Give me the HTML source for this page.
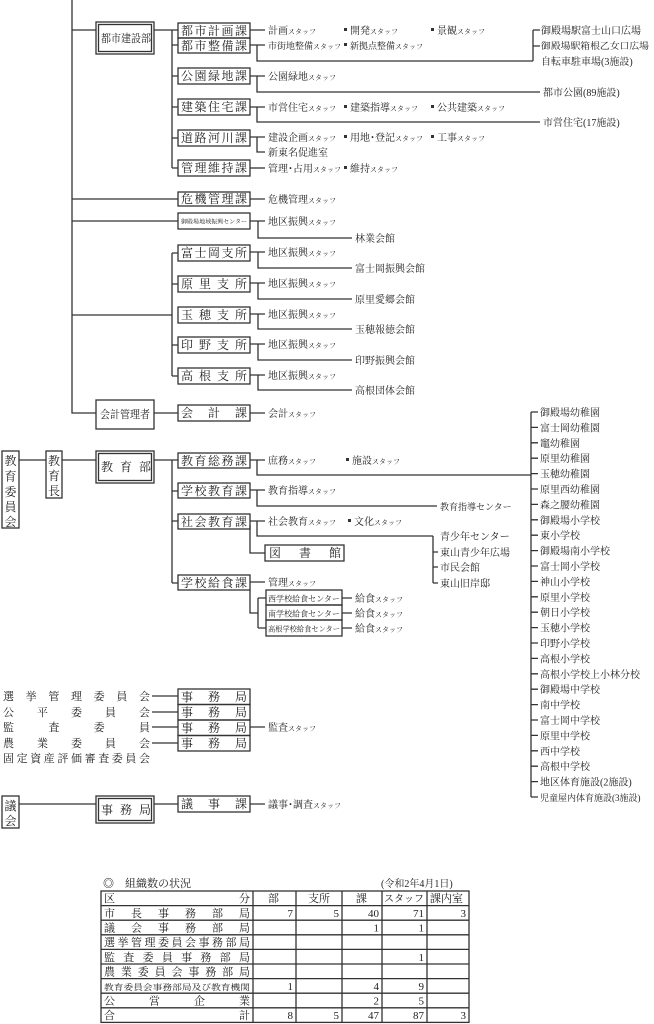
<!DOCTYPE html>
<html><head><meta charset="utf-8"><style>
html,body{margin:0;padding:0;background:#fff;}
svg{display:block;}
text{font-family:"Liberation Serif","Noto Serif CJK SC",serif;fill:#222;}
.s{font-size:7px;}
</style></head><body>
<svg width="654" height="1024" viewBox="0 0 654 1024" xmlns="http://www.w3.org/2000/svg">
<g stroke="#333" stroke-width="1.3" fill="none">
<path d="M72 0V413H96"/>
<path d="M72 30H96"/>
<rect x="96" y="22" width="58" height="32"/><rect x="98.5" y="24.5" width="53" height="27"/>
<path d="M154 30H172M172 30V168M172 30H178M172 45H178M172 76H178M172 107H178M172 138H178M172 168H178"/>
<rect x="178" y="23" width="72" height="15"/><rect x="178" y="38" width="72" height="15"/>
<rect x="178" y="68" width="72" height="16"/><rect x="178" y="99" width="72" height="16"/>
<rect x="178" y="130" width="72" height="16"/><rect x="178" y="160" width="72" height="16"/>
<path d="M250 30H265M250 45H265M257 45V61H533M533 30V61M533 30H540M533 46H540"/>
<path d="M250 76H265M257 76V92H540"/>
<path d="M250 107H265M257 107V122H540"/>
<path d="M250 137H265M257 137V152H265"/>
<path d="M250 168H265"/>
<path d="M72 199H178M72 221H178M72 315H172M172 253V376M172 253H178M172 284H178M172 345H178M172 376H178"/>
<rect x="178" y="192" width="72" height="14"/>
<rect x="178" y="213" width="72" height="16"/>
<path d="M250 199H265M250 221H265M258 221V238H352"/>
<rect x="178" y="245" width="72" height="16"/><rect x="178" y="276" width="72" height="16"/>
<rect x="178" y="307" width="72" height="16"/><rect x="178" y="337" width="72" height="16"/>
<rect x="178" y="368" width="72" height="16"/>
<path d="M250 252H265M258 252V268H352"/>
<path d="M250 283H265M258 283V299H352"/>
<path d="M250 314H265M258 314V329H352"/>
<path d="M250 344H265M258 344V360H352"/>
<path d="M250 375H265M258 375V390H352"/>
<rect x="96" y="400" width="58" height="29"/>
<path d="M154 413H178M250 413H265"/>
<rect x="178" y="405" width="72" height="16"/>
<rect x="2" y="451" width="17" height="77"/>
<path d="M19 460H46"/>
<rect x="46" y="451" width="16" height="47"/>
<path d="M62 460H96"/>
<rect x="96" y="451" width="58" height="32"/><rect x="98.5" y="453.5" width="53" height="27"/>
<path d="M154 460H172M172 460V583M172 460H178M172 491H178M172 521H178M172 583H178"/>
<rect x="178" y="453" width="72" height="15"/><rect x="178" y="483" width="72" height="15"/>
<rect x="178" y="514" width="72" height="15"/><rect x="178" y="575" width="72" height="15"/>
<rect x="265" y="545" width="79" height="16"/>
<path d="M250 460H265M257 460V475H531"/>
<path d="M250 490H265M257 490V506H437"/>
<path d="M250 521H265M257 521V536H433M433 536V583M433 552H438M433 567H438M433 583H438"/>
<path d="M250 525V553H265"/>
<path d="M250 582H265M250 590V613H258M258 598V628M258 598H266M258 628H266"/>
<rect x="266" y="590" width="76" height="15"/><rect x="266" y="605" width="76" height="15"/><rect x="266" y="620" width="76" height="16"/>
<path d="M342 598H352M342 613H352M342 628H352"/>
<path d="M531 412V797"/>
<path d="M531 412H538M531 427.4H538M531 442.8H538M531 458.2H538M531 473.6H538M531 489H538M531 504.4H538M531 519.8H538M531 535.2H538M531 550.6H538M531 566H538M531 581.4H538M531 596.8H538M531 612.2H538M531 627.6H538M531 643H538M531 658.4H538M531 673.8H538M531 689.2H538M531 704.6H538M531 720H538M531 735.4H538M531 750.8H538M531 766.2H538M531 781.6H538M531 797H538"/>
<path d="M152 696H178M152 712H178M152 727H178M152 743H178M250 727H265"/>
<rect x="178" y="689" width="72" height="15.5"/><rect x="178" y="704.5" width="72" height="15.5"/>
<rect x="178" y="720" width="72" height="15.5"/><rect x="178" y="735.5" width="72" height="15.5"/>
<rect x="2" y="796" width="17" height="32"/>
<path d="M19 804H96"/>
<rect x="96" y="796" width="58" height="27"/><rect x="98.5" y="798.5" width="53" height="22"/>
<path d="M154 804H178M250 804H265"/>
<rect x="178" y="796" width="72" height="16"/>
<rect x="101" y="891" width="368" height="131.4"/>
<path d="M101 905.6H469M101 920.2H469M101 934.8H469M101 949.4H469M101 964H469M101 978.6H469M101 993.2H469M101 1007.8H469"/>
<path d="M253 891V1022.4M296 891V1022.4M342 891V1022.4M382 891V1022.4M427 891V1022.4"/>
</g>
<g fill="#333">
<rect x="344" y="28" width="3" height="3"/><rect x="431" y="28" width="3" height="3"/>
<rect x="344" y="43" width="3" height="3"/>
<rect x="344" y="105" width="3" height="3"/><rect x="431" y="105" width="3" height="3"/>
<rect x="344" y="135" width="3" height="3"/><rect x="431" y="135" width="3" height="3"/>
<rect x="344" y="166" width="3" height="3"/>
<rect x="346" y="458" width="3" height="3"/>
<rect x="348" y="519" width="3" height="3"/>
</g>
<g font-size="12">
<text x="101" y="42" font-size="11" textLength="50" lengthAdjust="spacingAndGlyphs">都市建設部</text>
<text x="181" y="35" textLength="66" lengthAdjust="spacing">都市計画課</text>
<text x="181" y="50" textLength="66" lengthAdjust="spacing">都市整備課</text>
<text x="181" y="80" textLength="66" lengthAdjust="spacing">公園緑地課</text>
<text x="181" y="111" textLength="66" lengthAdjust="spacing">建築住宅課</text>
<text x="181" y="142" textLength="66" lengthAdjust="spacing">道路河川課</text>
<text x="181" y="172" textLength="66" lengthAdjust="spacing">管理維持課</text>
<text x="181" y="203" textLength="66" lengthAdjust="spacing">危機管理課</text>
<text x="181" y="223.5" font-size="5.5" textLength="66" lengthAdjust="spacingAndGlyphs">御殿場地域振興センター</text>
<text x="181" y="257" textLength="66" lengthAdjust="spacing">富士岡支所</text>
<text x="181" y="288" textLength="66" lengthAdjust="spacing">原里支所</text>
<text x="181" y="319" textLength="66" lengthAdjust="spacing">玉穂支所</text>
<text x="181" y="349" textLength="66" lengthAdjust="spacing">印野支所</text>
<text x="181" y="380" textLength="66" lengthAdjust="spacing">高根支所</text>
<text x="100" y="418" font-size="11" textLength="50" lengthAdjust="spacingAndGlyphs">会計管理者</text>
<text x="181" y="417" textLength="66" lengthAdjust="spacing">会計課</text>
<text x="101" y="471" textLength="50" lengthAdjust="spacing">教育部</text>
<text x="181" y="465" textLength="66" lengthAdjust="spacing">教育総務課</text>
<text x="181" y="495" textLength="66" lengthAdjust="spacing">学校教育課</text>
<text x="181" y="526" textLength="66" lengthAdjust="spacing">社会教育課</text>
<text x="181" y="587" textLength="66" lengthAdjust="spacing">学校給食課</text>
<text x="269" y="557" textLength="72" lengthAdjust="spacing">図書館</text>
<text x="268" y="601.5" font-size="8" textLength="72" lengthAdjust="spacingAndGlyphs">西学校給食センター</text>
<text x="268" y="616.5" font-size="8" textLength="72" lengthAdjust="spacingAndGlyphs">南学校給食センター</text>
<text x="268" y="631.5" font-size="7.5" textLength="72" lengthAdjust="spacingAndGlyphs">高根学校給食センター</text>
<text x="4.5" y="465">教</text><text x="4.5" y="480.5">育</text><text x="4.5" y="496">委</text><text x="4.5" y="511">員</text><text x="4.5" y="526">会</text>
<text x="48" y="465">教</text><text x="48" y="480">育</text><text x="48" y="495">長</text>
<text x="181" y="701" textLength="66" lengthAdjust="spacing">事務局</text>
<text x="181" y="716.5" textLength="66" lengthAdjust="spacing">事務局</text>
<text x="181" y="732" textLength="66" lengthAdjust="spacing">事務局</text>
<text x="181" y="747.5" textLength="66" lengthAdjust="spacing">事務局</text>
<text x="4.5" y="810">議</text><text x="4.5" y="825">会</text>
<text x="101" y="814" textLength="50" lengthAdjust="spacing">事務局</text>
<text x="181" y="808" textLength="66" lengthAdjust="spacing">議事課</text>
</g>
<g font-size="10">
<text x="268" y="34">計画<tspan class="s">スタッフ</tspan></text>
<text x="350" y="34">開発<tspan class="s">スタッフ</tspan></text>
<text x="437" y="34">景観<tspan class="s">スタッフ</tspan></text>
<text x="268" y="49" font-size="9">市街地整備<tspan class="s">スタッフ</tspan></text>
<text x="350" y="49" font-size="9">新拠点整備<tspan class="s">スタッフ</tspan></text>
<text x="541" y="34">御殿場駅富士山口広場</text>
<text x="541" y="49" font-size="9" textLength="108" lengthAdjust="spacingAndGlyphs">御殿場駅箱根乙女口広場</text>
<text x="541" y="65">自転車駐車場(3施設)</text>
<text x="268" y="80">公園緑地<tspan class="s">スタッフ</tspan></text>
<text x="543" y="96">都市公園(89施設)</text>
<text x="268" y="111">市営住宅<tspan class="s">スタッフ</tspan></text>
<text x="350" y="111">建築指導<tspan class="s">スタッフ</tspan></text>
<text x="437" y="111">公共建築<tspan class="s">スタッフ</tspan></text>
<text x="543" y="126">市営住宅(17施設)</text>
<text x="268" y="141">建設企画<tspan class="s">スタッフ</tspan></text>
<text x="350" y="141">用地･登記<tspan class="s">スタッフ</tspan></text>
<text x="437" y="141">工事<tspan class="s">スタッフ</tspan></text>
<text x="268" y="156">新東名促進室</text>
<text x="268" y="172">管理･占用<tspan class="s">スタッフ</tspan></text>
<text x="350" y="172">維持<tspan class="s">スタッフ</tspan></text>
<text x="268" y="203">危機管理<tspan class="s">スタッフ</tspan></text>
<text x="268" y="225">地区振興<tspan class="s">スタッフ</tspan></text>
<text x="355" y="242">林業会館</text>
<text x="268" y="256">地区振興<tspan class="s">スタッフ</tspan></text>
<text x="355" y="272">富士岡振興会館</text>
<text x="268" y="287">地区振興<tspan class="s">スタッフ</tspan></text>
<text x="355" y="303">原里愛郷会館</text>
<text x="268" y="318">地区振興<tspan class="s">スタッフ</tspan></text>
<text x="355" y="333">玉穂報徳会館</text>
<text x="268" y="348">地区振興<tspan class="s">スタッフ</tspan></text>
<text x="355" y="364">印野振興会館</text>
<text x="268" y="379">地区振興<tspan class="s">スタッフ</tspan></text>
<text x="355" y="394">高根団体会館</text>
<text x="268" y="417">会計<tspan class="s">スタッフ</tspan></text>
<text x="268" y="464">庶務<tspan class="s">スタッフ</tspan></text>
<text x="352" y="464">施設<tspan class="s">スタッフ</tspan></text>
<text x="268" y="494">教育指導<tspan class="s">スタッフ</tspan></text>
<text x="440" y="510" font-size="9">教育指導センター</text>
<text x="268" y="525">社会教育<tspan class="s">スタッフ</tspan></text>
<text x="354" y="525">文化<tspan class="s">スタッフ</tspan></text>
<text x="440" y="540">青少年センター</text>
<text x="440" y="556">東山青少年広場</text>
<text x="440" y="571">市民会館</text>
<text x="440" y="587">東山旧岸邸</text>
<text x="268" y="586">管理<tspan class="s">スタッフ</tspan></text>
<text x="355" y="602">給食<tspan class="s">スタッフ</tspan></text>
<text x="355" y="617">給食<tspan class="s">スタッフ</tspan></text>
<text x="355" y="632">給食<tspan class="s">スタッフ</tspan></text>
<text x="268" y="731">監査<tspan class="s">スタッフ</tspan></text>
<text x="268" y="808">議事･調査<tspan class="s">スタッフ</tspan></text>
</g>
<g font-size="10">
<text x="540" y="416">御殿場幼稚園</text>
<text x="540" y="431.4">富士岡幼稚園</text>
<text x="540" y="446.8">竈幼稚園</text>
<text x="540" y="462.2">原里幼稚園</text>
<text x="540" y="477.6">玉穂幼稚園</text>
<text x="540" y="493">原里西幼稚園</text>
<text x="540" y="508.4">森之腰幼稚園</text>
<text x="540" y="523.8">御殿場小学校</text>
<text x="540" y="539.2">東小学校</text>
<text x="540" y="554.6">御殿場南小学校</text>
<text x="540" y="570">富士岡小学校</text>
<text x="540" y="585.4">神山小学校</text>
<text x="540" y="600.8">原里小学校</text>
<text x="540" y="616.2">朝日小学校</text>
<text x="540" y="631.6">玉穂小学校</text>
<text x="540" y="647">印野小学校</text>
<text x="540" y="662.4">高根小学校</text>
<text x="540" y="677.8">高根小学校上小林分校</text>
<text x="540" y="693.2">御殿場中学校</text>
<text x="540" y="708.6">南中学校</text>
<text x="540" y="724">富士岡中学校</text>
<text x="540" y="739.4">原里中学校</text>
<text x="540" y="754.8">西中学校</text>
<text x="540" y="770.2">高根中学校</text>
<text x="540" y="785.6">地区体育施設(2施設)</text>
<text x="540" y="801" font-size="9">児童屋内体育施設(3施設)</text>
</g>
<g font-size="11">
<text x="3" y="700" textLength="147" lengthAdjust="spacing">選挙管理委員会</text>
<text x="3" y="716" textLength="147" lengthAdjust="spacing">公平委員会</text>
<text x="3" y="731" textLength="147" lengthAdjust="spacing">監査委員</text>
<text x="3" y="747" textLength="147" lengthAdjust="spacing">農業委員会</text>
<text x="3" y="762" textLength="147" lengthAdjust="spacing">固定資産評価審査委員会</text>
</g>
<g font-size="11">
<text x="103" y="887">◎　組織数の状況</text>
<text x="381" y="887" font-size="10">(令和2年4月1日)</text>
<text x="104" y="902" textLength="146" lengthAdjust="spacing">区分</text>
<text x="268" y="902">部</text><text x="308" y="902">支所</text><text x="356" y="902">課</text>
<text x="384" y="902" font-size="10">スタッフ</text><text x="430" y="902">課内室</text>
<text x="104" y="917" textLength="146" lengthAdjust="spacing">市長事務部局</text>
<text x="104" y="931.6" textLength="146" lengthAdjust="spacing">議会事務部局</text>
<text x="104" y="946.2" textLength="146" lengthAdjust="spacing">選挙管理委員会事務部局</text>
<text x="104" y="960.8" textLength="146" lengthAdjust="spacing">監査委員事務部局</text>
<text x="104" y="975.4" textLength="146" lengthAdjust="spacing">農業委員会事務部局</text>
<text x="104" y="990" font-size="8" textLength="146" lengthAdjust="spacingAndGlyphs">教育委員会事務部局及び教育機関</text>
<text x="104" y="1004.6" textLength="146" lengthAdjust="spacing">公営企業</text>
<text x="104" y="1019.2" textLength="146" lengthAdjust="spacing">合計</text>
</g>
<g font-size="11" text-anchor="end">
<text x="293" y="917">7</text><text x="339" y="917">5</text><text x="379" y="917">40</text><text x="424" y="917">71</text><text x="466" y="917">3</text>
<text x="379" y="931.6">1</text><text x="424" y="931.6">1</text>
<text x="424" y="960.8">1</text>
<text x="293" y="990">1</text><text x="379" y="990">4</text><text x="424" y="990">9</text>
<text x="379" y="1004.6">2</text><text x="424" y="1004.6">5</text>
<text x="293" y="1019.2">8</text><text x="339" y="1019.2">5</text><text x="379" y="1019.2">47</text><text x="424" y="1019.2">87</text><text x="466" y="1019.2">3</text>
</g>
</svg>
</body></html>
